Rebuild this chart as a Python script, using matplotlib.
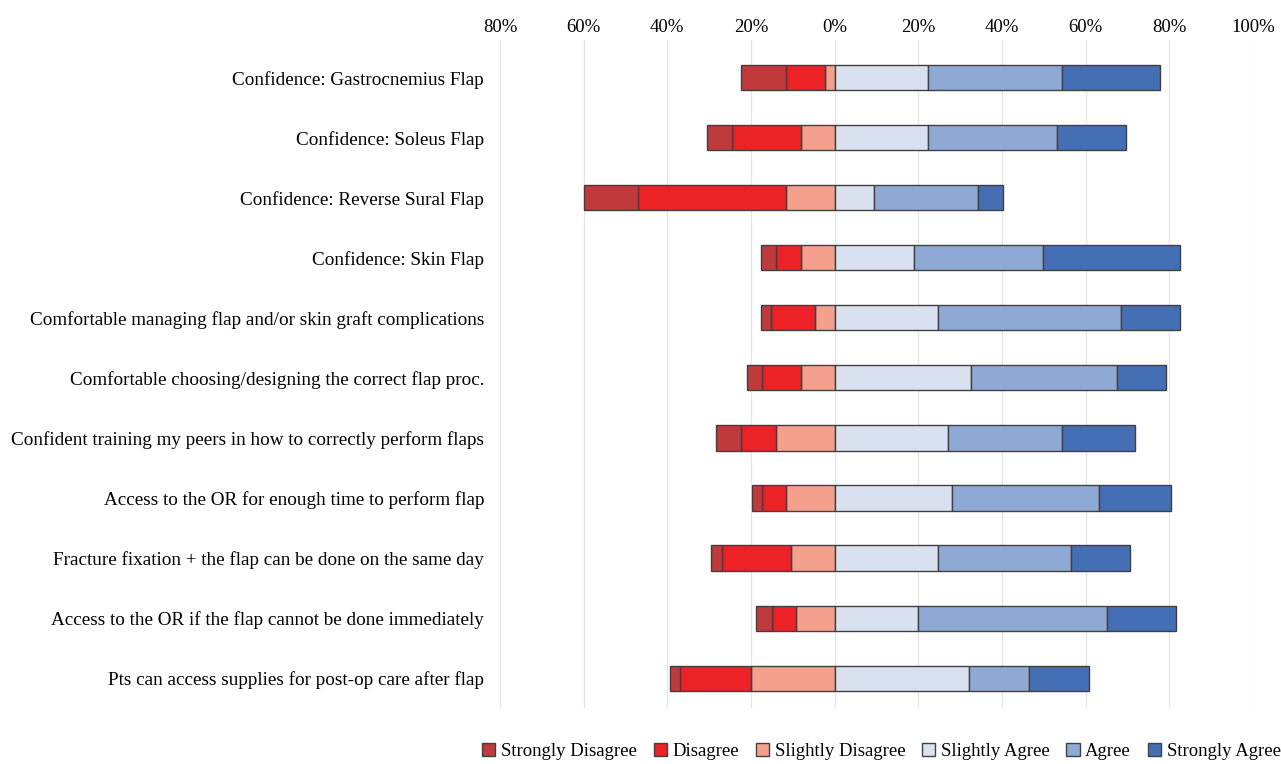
# Diverging stacked bar chart: flap confidence / access survey

import matplotlib.pyplot as plt
import numpy as np

plt.rcParams['font.family'] = ['Liberation Serif', 'DejaVu Serif']

questions = [
    'Confidence: Gastrocnemius Flap',
    'Confidence: Soleus Flap',
    'Confidence: Reverse Sural Flap',
    'Confidence: Skin Flap',
    'Comfortable managing flap and/or skin graft complications',
    'Comfortable choosing/designing the correct flap proc.',
    'Confident training my peers in how to correctly perform flaps',
    'Access to the OR for enough time to perform flap',
    'Fracture fixation + the flap can be done on the same day',
    'Access to the OR if the flap cannot be done immediately',
    'Pts can access supplies for post-op care after flap',
]

# percent of respondents per answer
strongly_disagree = [10.7, 5.9, 12.9, 3.6, 2.6, 3.6, 6.0, 2.4, 2.5, 3.7, 2.4]
disagree = [9.5, 16.5, 35.4, 5.9, 10.5, 9.3, 8.3, 5.8, 16.5, 5.7, 16.8]
slightly_disagree = [2.2, 8.1, 11.7, 8.1, 4.6, 8.1, 14.0, 11.6, 10.5, 9.3, 20.1]
slightly_agree = [22.3, 22.4, 9.4, 19.0, 24.7, 32.6, 27.1, 28.1, 24.7, 19.9, 32.1]
agree = [32.1, 30.7, 24.8, 30.7, 43.7, 35.0, 27.3, 35.0, 31.9, 45.2, 14.4]
strongly_agree = [23.5, 16.5, 6.0, 32.9, 14.1, 11.7, 17.5, 17.4, 14.1, 16.5, 14.4]

labels = ['Strongly Disagree', 'Disagree', 'Slightly Disagree',
          'Slightly Agree', 'Agree', 'Strongly Agree']
colors = ['#C0393B', '#EC2227', '#F4A08D', '#D9E1F0', '#8FA9D5', '#446FB4']

fig = plt.figure(figsize=(12.81, 7.64), dpi=100)
ax = fig.add_axes([0.3903, 0.073, 0.5878, 0.875])

y = np.arange(len(questions))
sd = np.array(strongly_disagree)
d = np.array(disagree)
sld = np.array(slightly_disagree)
sa = np.array(slightly_agree)
a = np.array(agree)
sta = np.array(strongly_agree)

h = 0.42
kw = dict(height=h, edgecolor='#404040', linewidth=1.0, zorder=3)
ax.barh(y, -sld, left=0, color=colors[2], label=labels[2], **kw)
ax.barh(y, -d, left=-sld, color=colors[1], label=labels[1], **kw)
ax.barh(y, -sd, left=-(sld + d), color=colors[0], label=labels[0], **kw)
ax.barh(y, sa, left=0, color=colors[3], label=labels[3], **kw)
ax.barh(y, a, left=sa, color=colors[4], label=labels[4], **kw)
ax.barh(y, sta, left=sa + a, color=colors[5], label=labels[5], **kw)

ax.set_xlim(-80, 100)
ax.set_ylim(10.5, -0.63)
ticks = np.arange(-80, 101, 20)
ax.set_xticks(ticks)
ax.set_xticklabels([f'{abs(t)}%' for t in ticks], fontsize=13.5)
ax.xaxis.tick_top()
ax.tick_params(axis='x', length=0, pad=3)
ax.set_yticks(y)
ax.set_yticklabels(questions, fontsize=13.8)
ax.tick_params(axis='y', length=0, pad=11.5)
for s in ax.spines.values():
    s.set_visible(False)
ax.grid(axis='x', color='#E6E6E6', linewidth=1, zorder=0)
ax.set_axisbelow(True)

handles, labs = ax.get_legend_handles_labels()
order = [labs.index(l) for l in labels]
fig.legend([handles[i] for i in order], labels, loc='center',
           bbox_to_anchor=(0.688, 0.016), ncol=6, frameon=False,
           fontsize=13.5, handlelength=0.7, handleheight=0.7,
           handletextpad=0.3, columnspacing=0.9,
           borderpad=0.2)

plt.savefig('out.png', dpi=100)
plt.close()
